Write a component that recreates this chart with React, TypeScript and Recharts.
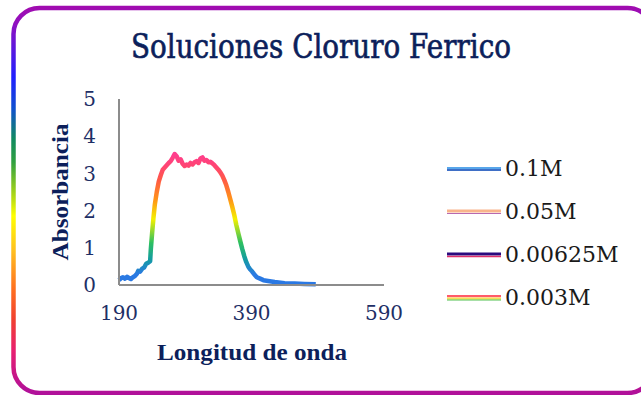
import { LineChart, Line, XAxis, YAxis } from "recharts";

const wavelength = [
  190, 193, 196, 199, 202, 205, 208, 211, 214, 217, 219, 222, 225, 228, 231, 234, 237, 238, 240, 242,
  244, 247, 250, 253, 256, 259, 262, 265, 268, 271, 274, 277, 280, 283, 286, 289, 292, 295, 298, 301,
  304, 307, 310, 313, 316, 319, 322, 325, 328, 331, 334, 337, 340, 343, 346, 349, 352, 355, 358, 361,
  364, 367, 370, 373, 376, 379, 382, 385, 388, 391, 394, 398, 403, 408, 415, 425, 440, 455, 470, 487,
];

const absorbance = [
  0.13, 0.18, 0.21, 0.17, 0.22, 0.19, 0.16, 0.21, 0.24, 0.3, 0.38, 0.36, 0.44, 0.47, 0.57, 0.6, 0.64, 0.95, 1.4, 1.8,
  2.15, 2.5, 2.78, 2.95, 3.1, 3.16, 3.22, 3.28, 3.33, 3.42, 3.52, 3.46, 3.34, 3.38, 3.26, 3.2, 3.24, 3.21, 3.28, 3.24,
  3.3, 3.33, 3.28, 3.4, 3.43, 3.34, 3.36, 3.3, 3.31, 3.27, 3.22, 3.16, 3.1, 3.03, 2.94, 2.82, 2.68, 2.5, 2.3, 2.1,
  1.88, 1.62, 1.4, 1.18, 0.97, 0.78, 0.62, 0.5, 0.42, 0.36, 0.29, 0.21, 0.17, 0.13, 0.11, 0.08, 0.05, 0.04, 0.03, 0.02,
];

const xTicks = [190, 390, 590];
const yTicks = [0, 1, 2, 3, 4, 5];
const seriesNames = ["0.1M", "0.05M", "0.00625M", "0.003M"];

const data = wavelength.map((x, i) => ({ x, y: absorbance[i] }));

const NAVY = "#0c1f5b";

function LegendIcon({ name }: { name: string }) {
  if (name === "0.1M") {
    return (
      <svg width={54} height={8}>
        <line x1={0} y1={3} x2={54} y2={3} stroke="#58a6ea" strokeWidth={2} strokeLinecap="round" />
        <line x1={0} y1={5} x2={54} y2={5} stroke="#3f6fc6" strokeWidth={2} strokeLinecap="round" />
      </svg>
    );
  }
  if (name === "0.05M") {
    return (
      <svg width={54} height={8}>
        <line x1={0} y1={3} x2={54} y2={3} stroke="#f9b48c" strokeWidth={3} strokeLinecap="round" />
        <line x1={0} y1={5.5} x2={54} y2={5.5} stroke="#b868b0" strokeWidth={1} />
      </svg>
    );
  }
  if (name === "0.00625M") {
    return (
      <svg width={54} height={8}>
        <line x1={0} y1={3} x2={54} y2={3} stroke="#2a0a7e" strokeWidth={3} strokeLinecap="round" />
        <line x1={0} y1={5.5} x2={54} y2={5.5} stroke="#e0306a" strokeWidth={1.5} />
      </svg>
    );
  }
  return (
    <svg width={54} height={8}>
      <line x1={0} y1={2} x2={54} y2={2} stroke="#ff5a6a" strokeWidth={2} strokeLinecap="round" />
      <line x1={0} y1={4} x2={54} y2={4} stroke="#ffb020" strokeWidth={1} />
      <line x1={0} y1={5} x2={54} y2={5} stroke="#e8e020" strokeWidth={1} />
      <line x1={0} y1={6} x2={54} y2={6} stroke="#50c050" strokeWidth={1} />
    </svg>
  );
}

function SeriesLegend() {
  return (
    <div style={{ display: "flex", flexDirection: "column", gap: 20 }}>
      {seriesNames.map((name) => (
        <div key={name} style={{ display: "flex", alignItems: "center", height: 23 }}>
          <LegendIcon name={name} />
          <span style={{ fontFamily: "DejaVu Serif", fontSize: 22, color: "#1a1a1a", marginLeft: 4 }}>{name}</span>
        </div>
      ))}
    </div>
  );
}

export default function App() {
  return (
    <div style={{ position: "absolute", left: 0, top: 0, width: 641, height: 395, overflow: "hidden", background: "#fff" }}>
      <svg width={641} height={395} style={{ position: "absolute", left: 0, top: 0 }}>
        <defs>
          <linearGradient id="frame" gradientUnits="userSpaceOnUse" x1={0} y1={8} x2={0} y2={393}>
            <stop offset="0" stopColor="#a00cb0" />
            <stop offset="0.04" stopColor="#9010c0" />
            <stop offset="0.18" stopColor="#2020ff" />
            <stop offset="0.26" stopColor="#1050d0" />
            <stop offset="0.34" stopColor="#108a60" />
            <stop offset="0.4" stopColor="#30a040" />
            <stop offset="0.5" stopColor="#c0e010" />
            <stop offset="0.54" stopColor="#ffff00" />
            <stop offset="0.63" stopColor="#ffc020" />
            <stop offset="0.73" stopColor="#ff7020" />
            <stop offset="0.81" stopColor="#f04030" />
            <stop offset="0.89" stopColor="#e82070" />
            <stop offset="1" stopColor="#b0109a" />
          </linearGradient>
        </defs>
        <rect x={13.5} y={8} width={640} height={385} rx={26} fill="#fff" stroke="url(#frame)" strokeWidth={4.5} />
        <text x={321} y={58} textAnchor="middle" fontFamily="DejaVu Serif" fontSize={34} fill={NAVY} stroke={NAVY} strokeWidth={0.7} textLength={380} lengthAdjust="spacingAndGlyphs">
          Soluciones Cloruro Ferrico
        </text>
        <text x={68} y={192} textAnchor="middle" transform="rotate(-90 68 192)" fontFamily="Liberation Serif" fontWeight="bold" fontSize={24} fill={NAVY} textLength={137} lengthAdjust="spacingAndGlyphs">
          Absorbancia
        </text>
        <text x={252} y={360} textAnchor="middle" fontFamily="Liberation Serif" fontWeight="bold" fontSize={24} fill={NAVY} textLength={190} lengthAdjust="spacingAndGlyphs">
          Longitud de onda
        </text>
      </svg>
      <div style={{ position: "absolute", left: 0, top: 0 }}>
        <LineChart width={641} height={395} data={data} margin={{ top: 99, right: 257, bottom: 80, left: 59 }}>
          <defs>
            <linearGradient id="rainbow" x1="0" y1="0" x2="0" y2="1">
              <stop offset="0" stopColor="#ff3d8e" />
              <stop offset="0.1" stopColor="#ff4670" />
              <stop offset="0.2" stopColor="#ff5a45" />
              <stop offset="0.35" stopColor="#ff9418" />
              <stop offset="0.5" stopColor="#f4f000" />
              <stop offset="0.68" stopColor="#2ec060" />
              <stop offset="0.81" stopColor="#139ca2" />
              <stop offset="0.92" stopColor="#2a7ae2" />
              <stop offset="1" stopColor="#2a78e4" />
            </linearGradient>
          </defs>
          <XAxis
            dataKey="x"
            type="number"
            domain={[190, 590]}
            ticks={xTicks}
            height={30}
            axisLine={{ stroke: "#8c8c8c", strokeWidth: 2 }}
            tickLine={false}
            tickMargin={15}
            tick={{ fill: "#1e2f66", fontFamily: "DejaVu Serif", fontSize: 20 }}
          />
          <YAxis
            type="number"
            domain={[0, 5]}
            ticks={yTicks}
            width={60}
            axisLine={{ stroke: "#8c8c8c", strokeWidth: 2 }}
            tickLine={false}
            tickMargin={17}
            tick={{ fill: "#1e2f66", fontFamily: "DejaVu Serif", fontSize: 20 }}
          />
          <Line
            type="linear"
            dataKey="y"
            name="0.003M"
            stroke="url(#rainbow)"
            strokeWidth={4.5}
            strokeLinejoin="round"
            dot={false}
            isAnimationActive={false}
          />
        </LineChart>
      </div>
      <div style={{ position: "absolute", left: 447, top: 157 }}>
        <SeriesLegend />
      </div>
    </div>
  );
}
